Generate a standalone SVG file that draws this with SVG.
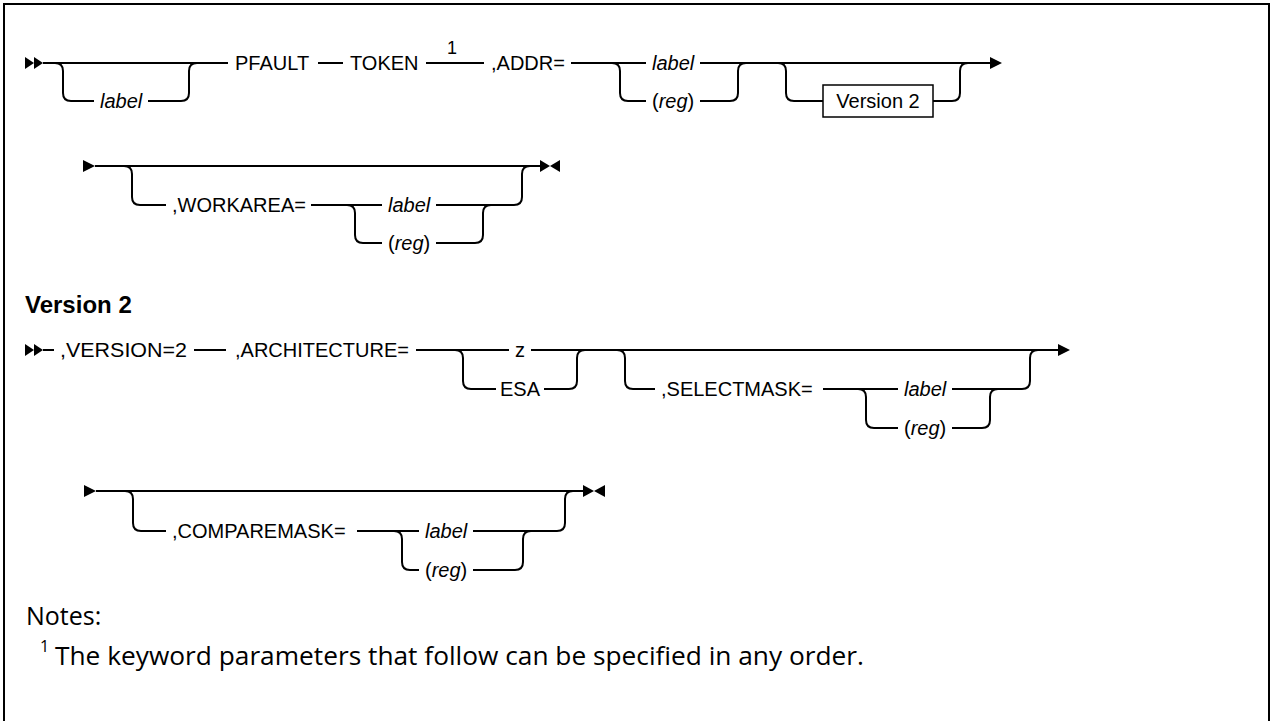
<svg xmlns="http://www.w3.org/2000/svg" width="1272" height="721" viewBox="0 0 1272 721">
<style>
.t{font-family:"Liberation Sans",Arial,sans-serif;font-size:20px;fill:#000}
.i{font-style:italic}
.c{text-anchor:middle}
.ln{fill:none;stroke:#000;stroke-width:2}
.ah{fill:#000}
.h{font-family:"Liberation Sans",Arial,sans-serif;font-size:24px;font-weight:bold}
.n{font-family:"Open Sans","Liberation Sans",sans-serif;font-size:25px}
</style>
<rect x="4" y="4" width="1265" height="800" fill="#fff" stroke="#000" stroke-width="2"/>
<g id="connectors">
<polygon class="ah" points="25,57 34,63 25,69"/>
<polygon class="ah" points="34,57 43,63 34,69"/>
<path class="ln" d="M43,63 H228"/>
<path class="ln" d="M55,63 Q63,63 63,71 V93 Q63,101 71,101 H94 M148,101 H181 Q189,101 189,93 V71 Q189,63 197,63"/>
<path class="ln" d="M318,63 H343"/>
<path class="ln" d="M426,63 H484"/>
<path class="ln" d="M571,63 H646"/>
<path class="ln" d="M612,63 Q620,63 620,71 V93 Q620,101 628,101 H646"/>
<path class="ln" d="M700,63 H990"/>
<path class="ln" d="M700,101 H730 Q738,101 738,93 V71 Q738,63 746,63"/>
<path class="ln" d="M778,63 Q786,63 786,71 V93 Q786,101 794,101 H823 M933,101 H952 Q960,101 960,93 V71 Q960,63 968,63"/>
<polygon class="ah" points="990,57 1002,63 990,69"/>
<polygon class="ah" points="83,160 95,166 83,172"/>
<path class="ln" d="M95,166 H540"/>
<polygon class="ah" points="540,160 550,166 540,172"/>
<polygon class="ah" points="560,160 550,166 560,172"/>
<path class="ln" d="M124,166 Q132,166 132,174 V197 Q132,205 140,205 H166"/>
<path class="ln" d="M311,205 H382"/>
<path class="ln" d="M347,205 Q355,205 355,213 V235 Q355,243 363,243 H382"/>
<path class="ln" d="M436,205 H514 Q522,205 522,197 V174 Q522,166 530,166"/>
<path class="ln" d="M436,243 H475 Q483,243 483,235 V213 Q483,205 491,205"/>
<polygon class="ah" points="25,344 34,350 25,356"/>
<polygon class="ah" points="34,344 43,350 34,356"/>
<path class="ln" d="M43,350 H54"/>
<path class="ln" d="M194,350 H226"/>
<path class="ln" d="M416,350 H509"/>
<path class="ln" d="M531,350 H1058"/>
<path class="ln" d="M455,350 Q463,350 463,358 V381 Q463,389 471,389 H496 M544,389 H569 Q577,389 577,381 V358 Q577,350 585,350"/>
<path class="ln" d="M617,350 Q625,350 625,358 V381 Q625,389 633,389 H655"/>
<path class="ln" d="M823,389 H898"/>
<path class="ln" d="M858,389 Q866,389 866,397 V420 Q866,428 874,428 H898"/>
<path class="ln" d="M952,389 H1022 Q1030,389 1030,381 V358 Q1030,350 1038,350"/>
<path class="ln" d="M952,428 H982 Q990,428 990,420 V397 Q990,389 998,389"/>
<polygon class="ah" points="1058,344 1070,350 1058,356"/>
<polygon class="ah" points="84,485 96,491 84,497"/>
<path class="ln" d="M96,491 H583"/>
<polygon class="ah" points="583,485 594,491 583,497"/>
<polygon class="ah" points="605,485 594,491 605,497"/>
<path class="ln" d="M125,491 Q133,491 133,499 V523 Q133,531 141,531 H166"/>
<path class="ln" d="M357,531 H419"/>
<path class="ln" d="M394,531 Q402,531 402,539 V562 Q402,570 410,570 H419"/>
<path class="ln" d="M473,531 H557 Q565,531 565,523 V499 Q565,491 573,491"/>
<path class="ln" d="M473,570 H515 Q523,570 523,562 V539 Q523,531 531,531"/>
</g>
<g id="n-label1"><text class="t i" x="100" y="108">label</text></g>
<g id="n-pfault"><text class="t" x="235" y="70">PFAULT</text></g>
<g id="n-token"><text class="t" x="350" y="70">TOKEN</text><text class="t c" x="452" y="54" style="font-size:18px">1</text></g>
<g id="n-addr"><text class="t" x="491" y="70">,ADDR=</text></g>
<g id="n-addr-label"><text class="t i" x="652" y="70">label</text></g>
<g id="n-addr-reg"><text class="t" x="652" y="108">(<tspan class="i">reg</tspan>)</text></g>
<g id="n-v2ref"><rect x="823" y="85" width="110" height="32" fill="#fff" stroke="#000" stroke-width="1.5"/><text class="t c" x="878" y="108">Version 2</text></g>
<g id="n-workarea"><text class="t" x="172" y="212">,WORKAREA=</text></g>
<g id="n-wa-label"><text class="t i" x="388" y="212">label</text></g>
<g id="n-wa-reg"><text class="t" x="388" y="250">(<tspan class="i">reg</tspan>)</text></g>
<g id="n-v2title"><text class="h" x="25" y="313">Version 2</text></g>
<g id="n-version"><text class="t" x="60" y="357" textLength="127" lengthAdjust="spacingAndGlyphs">,VERSION=2</text></g>
<g id="n-arch"><text class="t" x="235" y="357">,ARCHITECTURE=</text></g>
<g id="n-z"><text class="t c" x="520" y="357">z</text></g>
<g id="n-esa"><text class="t c" x="520" y="396">ESA</text></g>
<g id="n-selectmask"><text class="t" x="661" y="396">,SELECTMASK=</text></g>
<g id="n-sm-label"><text class="t i" x="904" y="396">label</text></g>
<g id="n-sm-reg"><text class="t" x="904" y="435">(<tspan class="i">reg</tspan>)</text></g>
<g id="n-comparemask"><text class="t" x="172" y="538">,COMPAREMASK=</text></g>
<g id="n-cm-label"><text class="t i" x="425" y="538">label</text></g>
<g id="n-cm-reg"><text class="t" x="425" y="577">(<tspan class="i">reg</tspan>)</text></g>
<g id="n-notes"><text class="n" x="26" y="625">Notes:</text>
<text class="n" x="40" y="652" style="font-size:16px">1</text>
<text class="n" x="55" y="665" textLength="809" lengthAdjust="spacingAndGlyphs">The keyword parameters that follow can be specified in any order.</text></g>
</svg>
